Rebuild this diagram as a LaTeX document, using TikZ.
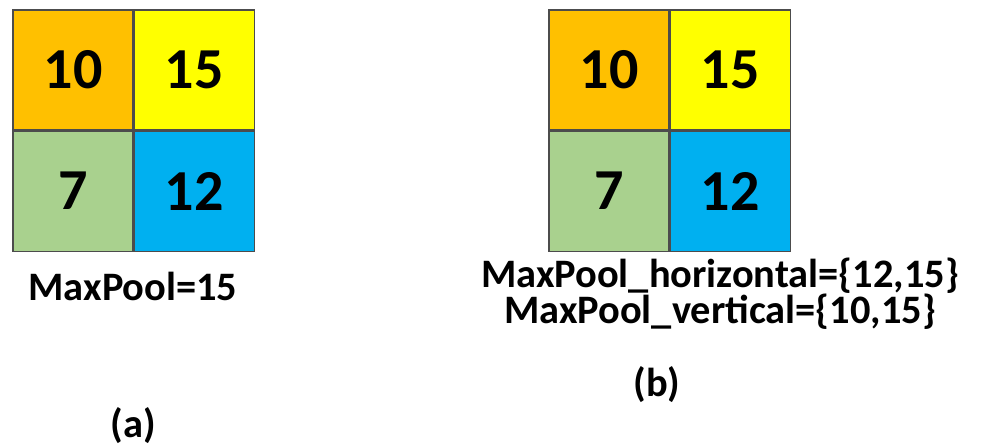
\documentclass[tikz,border=0pt]{standalone}
\usepackage{fontspec}
\setmainfont{Carlito}
\usetikzlibrary{positioning}
\definecolor{poolorange}{HTML}{FFC000}
\definecolor{poolyellow}{HTML}{FFFF00}
\definecolor{poolgreen}{HTML}{A9D18E}
\definecolor{poolblue}{HTML}{00B0F0}
\tikzstyle{cell} = [draw=black!70,line width=0.6pt,rectangle,inner sep=0,minimum size=2.4cm,font=\fontsize{33}{36}\selectfont\bfseries]
\tikzstyle{caption} = [anchor=base,inner sep=0,font=\fontsize{23}{24}\selectfont\bfseries]

\begin{document}
\begin{tikzpicture}
  \useasboundingbox (0,0) rectangle (19.64,8.96);
  % plain max pooling
  \node[cell,fill=poolorange] (a10) at (1.46,7.56) {10};
  \node[cell,fill=poolyellow,right=0 of a10] (a15) {15};
  \node[cell,fill=poolgreen,below=0 of a10] (a7) {7};
  \node[cell,fill=poolblue,right=0 of a7] (a12) {12};
  \node[caption] (amax) at (2.66,2.94) {MaxPool=15};
  \node[caption] (alabel) at (2.66,0.2) {(a)};
  % directional max pooling
  \node[cell,fill=poolorange] (b10) at (12.18,7.56) {10};
  \node[cell,fill=poolyellow,right=0 of b10] (b15) {15};
  \node[cell,fill=poolgreen,below=0 of b10] (b7) {7};
  \node[cell,fill=poolblue,right=0 of b7] (b12) {12};
  \node[caption] (bhor) at (14.40,3.20) {MaxPool\_horizontal=\{12,15\}};
  \node[caption] (bver) at (14.40,2.48) {MaxPool\_vertical=\{10,15\}};
  \node[caption] (blabel) at (13.14,1.02) {(b)};
\end{tikzpicture}
\end{document}
